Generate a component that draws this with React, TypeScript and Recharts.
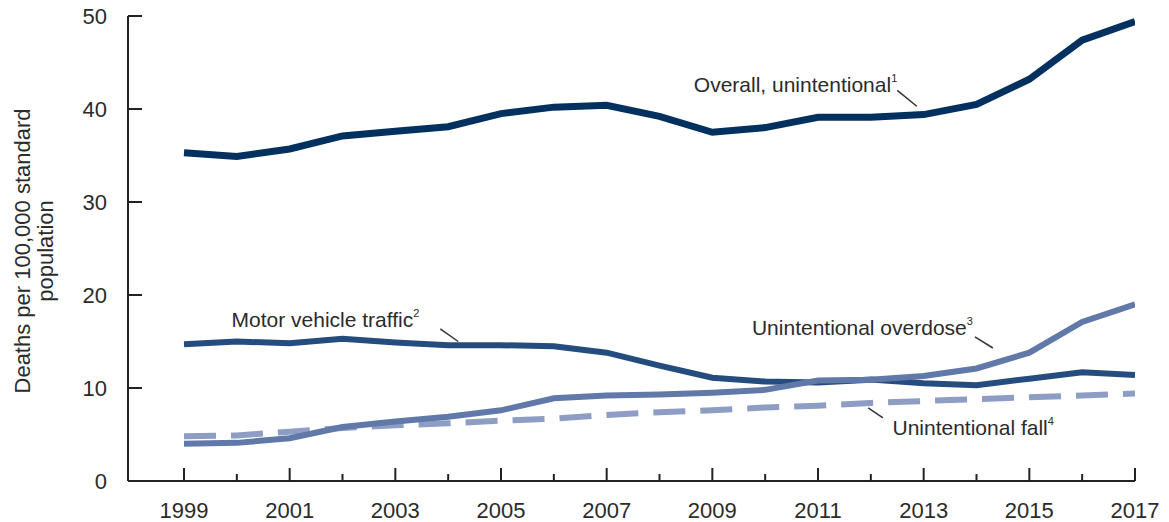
import { LineChart, Line, XAxis, YAxis, ReferenceDot, ReferenceLine } from 'recharts';

const FONT = '"Liberation Sans", Arial, sans-serif';
const TEXT = '#2b2b2b';

const YEARS = [1999, 2000, 2001, 2002, 2003, 2004, 2005, 2006, 2007, 2008, 2009, 2010, 2011, 2012, 2013, 2014, 2015, 2016, 2017];
const OVERALL = [35.3, 34.9, 35.7, 37.1, 37.6, 38.1, 39.5, 40.2, 40.4, 39.2, 37.5, 38.0, 39.1, 39.1, 39.4, 40.5, 43.2, 47.4, 49.4];
const MOTOR = [14.7, 15.0, 14.8, 15.3, 14.9, 14.6, 14.6, 14.5, 13.8, 12.4, 11.1, 10.7, 10.6, 10.9, 10.5, 10.3, 11.0, 11.7, 11.4];
const OVERDOSE = [4.0, 4.1, 4.6, 5.8, 6.4, 6.9, 7.6, 8.9, 9.2, 9.3, 9.5, 9.8, 10.8, 10.9, 11.3, 12.1, 13.8, 17.1, 19.0];
const FALL = [4.8, 4.9, 5.3, 5.7, 6.0, 6.2, 6.5, 6.7, 7.1, 7.4, 7.6, 7.9, 8.1, 8.4, 8.6, 8.8, 9.0, 9.2, 9.4];
const Y_TICKS = [0, 10, 20, 30, 40, 50];

const data = YEARS.map((year, i) => ({
  year,
  overall: OVERALL[i],
  motor: MOTOR[i],
  overdose: OVERDOSE[i],
  fall: FALL[i],
}));

// annotation labels, placed in data coordinates
const NOTES = [
  { text: 'Overall, unintentional', sup: '1', x: 2008.65, y: 41.83, line: [2012.5, 42.0, 2012.87, 40.3] },
  { text: 'Motor vehicle traffic', sup: '2', x: 1999.9, y: 16.6, line: [2003.85, 16.35, 2004.19, 15.0] },
  { text: 'Unintentional overdose', sup: '3', x: 2009.75, y: 15.7, line: [2013.97, 15.5, 2014.31, 14.3] },
  { text: 'Unintentional fall', sup: '4', x: 2012.41, y: 5.0, line: [2011.95, 7.85, 2012.23, 6.8] },
];

function XTick(props: any) {
  const { x, y, payload } = props;
  const major = payload.value % 2 === 1;
  return (
    <g>
      <line x1={x} x2={x} y1={y} y2={y - (major ? 13 : 7)} stroke="#222" strokeWidth={2} />
      {major && (
        <text x={x} y={y + 37} textAnchor="middle" fontSize={22} fontFamily={FONT} fill={TEXT}>
          {payload.value}
        </text>
      )}
    </g>
  );
}

function YTick(props: any) {
  const { x, y, payload } = props;
  return (
    <g>
      <line x1={x} x2={x + 14} y1={y} y2={y} stroke="#222" strokeWidth={2} />
      <text x={x - 21} y={y + 8} textAnchor="end" fontSize={22} fontFamily={FONT} fill={TEXT}>
        {payload.value}
      </text>
    </g>
  );
}

function YLabel() {
  return (
    <g transform="rotate(-90, 40, 251)" fontSize={22} fontFamily={FONT} fill={TEXT}>
      <text x={40} y={251 - 10} textAnchor="middle">Deaths per 100,000 standard</text>
      <text x={40} y={251 + 13} textAnchor="middle">population</text>
    </g>
  );
}

export default function App() {
  return (
    <div style={{ position: 'absolute', left: 0, top: 0, width: 1169, height: 522, background: '#fff' }}>
      <LineChart width={1169} height={522} data={data} margin={{ top: 16, right: 34, bottom: 0, left: 0 }}>
        <XAxis
          dataKey="year"
          type="number"
          domain={[1997.94, 2017]}
          ticks={YEARS}
          allowDataOverflow
          height={41}
          tickSize={0}
          tickMargin={0}
          tick={<XTick />}
          axisLine={{ stroke: '#222', strokeWidth: 2 }}
        />
        <YAxis
          domain={[0, 50]}
          ticks={Y_TICKS}
          width={128}
          tickSize={0}
          tickMargin={0}
          tick={<YTick />}
          axisLine={{ stroke: '#222', strokeWidth: 2 }}
          label={{ content: () => <YLabel /> }}
        />
        <Line type="linear" dataKey="fall" stroke="#8d9dc3" strokeWidth={6} strokeDasharray="32 15" dot={false} isAnimationActive={false} />
        <Line type="linear" dataKey="motor" stroke="#254c7e" strokeWidth={6} dot={false} isAnimationActive={false} />
        <Line type="linear" dataKey="overdose" stroke="#6079a9" strokeWidth={6} dot={false} isAnimationActive={false} />
        <Line type="linear" dataKey="overall" stroke="#02305f" strokeWidth={7} dot={false} isAnimationActive={false} />
        {NOTES.map((n) => (
          <ReferenceLine
            key={n.text + '-line'}
            segment={[{ x: n.line[0], y: n.line[1] }, { x: n.line[2], y: n.line[3] }]}
            stroke="#333"
            strokeWidth={1.5}
            ifOverflow="visible"
          />
        ))}
        {NOTES.map((n) => (
          <ReferenceDot
            key={n.text}
            x={n.x}
            y={n.y}
            ifOverflow="visible"
            shape={(p: any) => (
              <text x={p.cx} y={p.cy} fontSize={21} fontFamily={FONT} fill={TEXT}>
                {n.text}
                <tspan fontSize={11} dy={-10}>{n.sup}</tspan>
              </text>
            )}
          />
        ))}
      </LineChart>
    </div>
  );
}
